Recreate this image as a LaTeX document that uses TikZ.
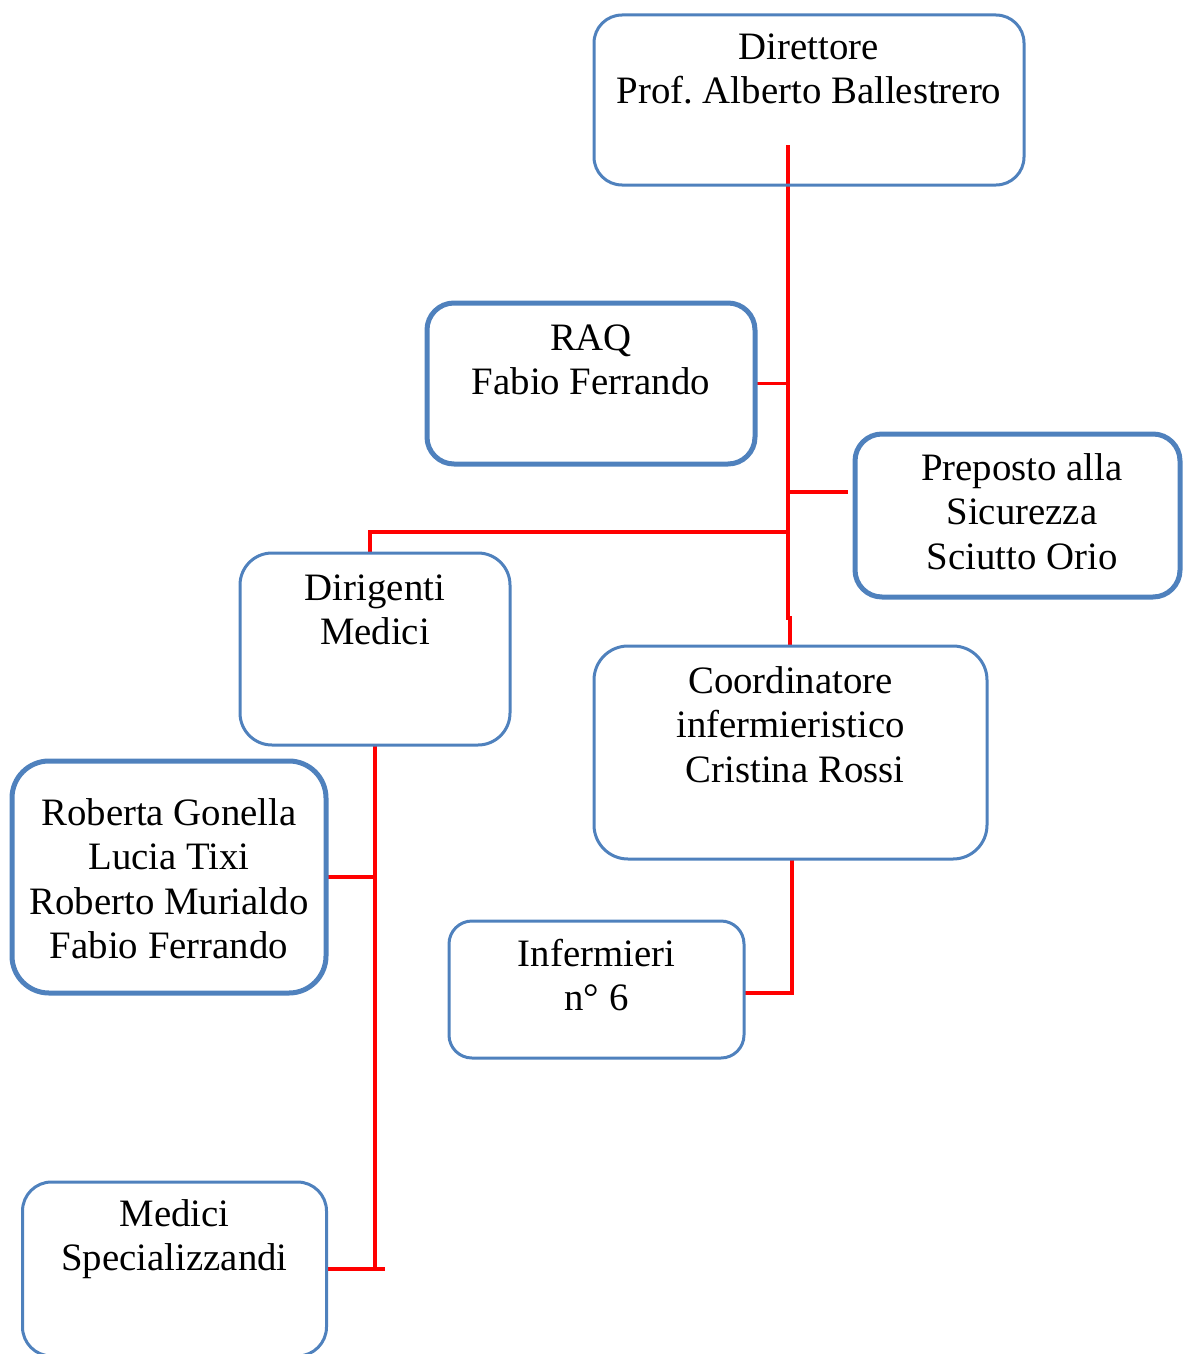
\documentclass[tikz,border=0pt]{standalone}
\usepackage{fontspec}
\setmainfont{Liberation Serif}
\usetikzlibrary{backgrounds}
\frenchspacing
\definecolor{boxblue}{RGB}{79,129,189}
\definecolor{linered}{RGB}{255,0,0}
\tikzset{
  orgbox/.style={draw=boxblue, line width=3pt, inner sep=0pt, outer sep=0pt},
  thickbox/.style={orgbox, line width=5pt},
  conn/.style={draw=linered, line width=3.5pt},
  trunkline/.style={conn, line width=3.8pt},
}
% name, cx, cy, w, h, first-baseline, style, text, radius
\newcommand\obox[9]{\node[#7, rounded corners=#9pt, minimum width=#4pt, minimum height=#5pt] (#1) at (#2pt,-#3pt) {\parbox[c][#5pt][t]{#4pt}{\centering\fontsize{38.8pt}{44.5pt}\selectfont\rule{0pt}{#6pt}#8}};}
\begin{document}
\begin{tikzpicture}
\useasboundingbox (0pt,0pt) rectangle (1183pt,-1354pt);
\obox{dir}{809}{100}{430}{170}{44}{orgbox}{Direttore\\Prof. Alberto Ballestrero}{28}
\obox{raq}{591}{383.5}{328}{161}{47}{thickbox}{RAQ\\Fabio Ferrando}{27}
\obox{prep}{1017.5}{515.5}{325}{163}{46}{thickbox}{\hspace*{9pt}Preposto alla\\\hspace*{9pt}Sicurezza\\\hspace*{9pt}Sciutto Orio}{27}
\obox{dirig}{375}{649}{270}{192}{47}{orgbox}{Dirigenti\\Medici}{32}
\obox{coord}{790.5}{752.5}{393}{213}{47}{orgbox}{Coordinatore\\infermieristico\\\hspace*{9pt}Cristina Rossi}{34}
\obox{rob}{169}{877}{314}{232}{64}{thickbox}{Roberta Gonella\\Lucia Tixi\\Roberto Murialdo\\Fabio Ferrando}{37}
\obox{inf}{596.5}{989.5}{295}{137}{45}{orgbox}{Infermieri\\n° 6}{23}
\obox{med}{174.5}{1269}{304}{174}{44}{orgbox}{Medici\\Specializzandi}{29}
\begin{scope}[on background layer]
  \coordinate (trunk) at (788pt,-145pt);
  \coordinate (jog) at (788pt,-618pt);
  \coordinate (jog2) at (790pt,-618pt);
  \draw[trunkline] (trunk) -- (jog) -- (jog2) -- (jog2 |- coord.north);
  \draw[conn] (raq.east) -- (raq.east -| trunk);
  \coordinate (pend) at (848pt,-492pt);
  \draw[conn] (pend -| trunk) -- (pend);
  \coordinate (dj) at (370pt,-532pt);
  \draw[conn] (dj -| trunk) -- (dj) -- (dj |- dirig.north);
  \draw[conn] (dirig.south) -- (dirig.south |- med.east);
  \coordinate (mend) at (385pt,-1269pt);
  \draw[conn] (med.east) -- (mend);
  \draw[conn] (rob.east) -- (rob.east -| dirig.south);
  \coordinate (cj) at (792pt,-993pt);
  \draw[conn] (cj |- coord.south) -- (cj) -- (cj -| inf.east);
\end{scope}
\end{tikzpicture}
\end{document}
